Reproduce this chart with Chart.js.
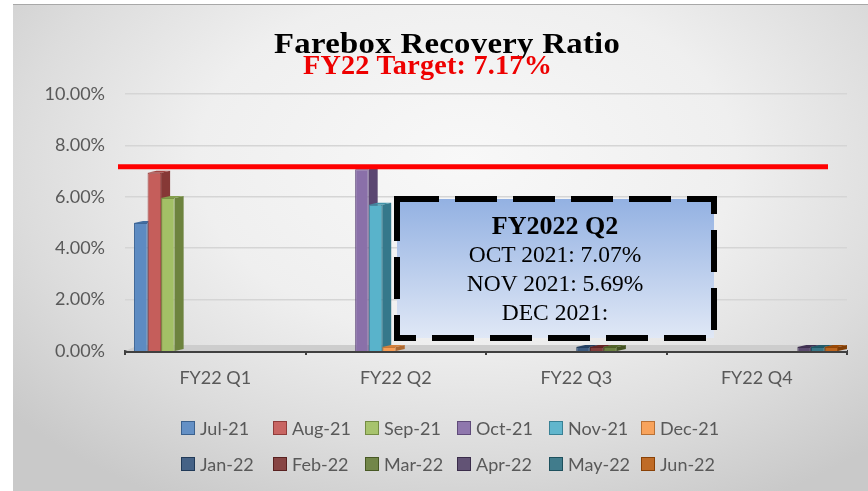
<!DOCTYPE html>
<html>
<head>
<meta charset="utf-8">
<script src="https://cdn.jsdelivr.net/npm/chart.js@4.4.1/dist/chart.umd.min.js"></script>
<style>
  html, body { margin: 0; padding: 0; background: #ffffff; }
  #wrap { position: relative; width: 868px; height: 491px; overflow: hidden; background: #ffffff; }
  #panel {
    position: absolute; left: 13px; top: 4px; width: 855px; height: 487px;
    border-top: 1px solid #a8a8a8;
    background: radial-gradient(ellipse 70% 80% at 53% 32%, #f8f8f8 0%, #efefef 45%, #dcdcdc 75%, #c9c9c9 100%);
  }
  #c { position: absolute; left: 0; top: 0; }
  .ttl { position: absolute; white-space: nowrap; font-family: "Liberation Serif", "Times New Roman", serif; font-weight: bold; line-height: 1; transform-origin: 0 0; }
  #title { left: 274px; top: 28px; font-size: 30px; letter-spacing: 0.3px; transform: scaleX(1.09); color: #000; }
  #subtitle { left: 303px; top: 52px; font-size: 27px; letter-spacing: 0.2px; transform: scaleX(1.045); color: #ee0000; }
  #boxsvg { position: absolute; left: 0; top: 0; }
  #boxtext { position: absolute; left: 395px; top: 211px; width: 320px; text-align: center;
    font-family: "Liberation Serif", "Times New Roman", serif; color: #000; }
  #boxtext div { line-height: 29px; height: 29px; white-space: nowrap; }
  #boxtext .h { font-weight: bold; font-size: 26px; }
  #boxtext .l { font-size: 23.5px; }
  #legend { position: absolute; left: 181px; top: 410px; display: grid;
    grid-template-columns: repeat(6, 92px); grid-auto-rows: 36px; }
  .li { display: flex; align-items: center; font-family: Lato, "Open Sans", sans-serif; font-size: 18px; color: #595959; white-space: nowrap; }
  .sw { width: 12px; height: 12px; margin-right: 5px; border: 1px solid; flex: none; }
</style>
</head>
<body>
<div id="wrap">
  <div id="panel"></div>
  <canvas id="c" width="868" height="491"></canvas>
  <div id="title" class="ttl">Farebox Recovery Ratio</div>
  <div id="subtitle" class="ttl">FY22 Target: 7.17%</div>
  <svg id="boxsvg" width="868" height="491">
    <defs>
      <linearGradient id="bg" x1="0" y1="0" x2="0" y2="1">
        <stop offset="0" stop-color="#93b1e2"/>
        <stop offset="1" stop-color="#e0e8f6"/>
      </linearGradient>
    </defs>
    <rect x="397" y="199" width="317" height="139" fill="url(#bg)" stroke="#000" stroke-width="6" stroke-dasharray="42 16"/>
  </svg>
  <div id="boxtext">
    <div class="h">FY2022 Q2</div>
    <div class="l">OCT 2021: 7.07%</div>
    <div class="l">NOV 2021: 5.69%</div>
    <div class="l">DEC 2021:</div>
  </div>
  <div id="legend"></div>
</div>
<script>
// ---- data ----
const quarters = ['FY22 Q1', 'FY22 Q2', 'FY22 Q3', 'FY22 Q4'];
const months = ['Jul-21', 'Aug-21', 'Sep-21', 'Oct-21', 'Nov-21', 'Dec-21',
                'Jan-22', 'Feb-22', 'Mar-22', 'Apr-22', 'May-22', 'Jun-22'];
const monthQuarter = [0, 0, 0, 1, 1, 1, 2, 2, 2, 3, 3, 3];
const monthValues = [4.98, 6.94, 5.95, 7.07, 5.69, 0, 0, 0, 0, 0, 0, 0];
const yTicks = [0, 2, 4, 6, 8, 10];
const target = 7.17;

// ---- styles ----
const monthColors = ['#4F81BD', '#C0504D', '#9BBB59', '#8064A2', '#4BACC6', '#F79646',
                     '#2C4D75', '#772C2A', '#5F7530', '#4D3B62', '#276A7C', '#B65708'];

function shade(hex, f) {
  const n = parseInt(hex.slice(1), 16);
  let r = (n >> 16) & 255, g = (n >> 8) & 255, b = n & 255;
  if (f < 0) { r *= (1 + f); g *= (1 + f); b *= (1 + f); }
  else { r += (255 - r) * f; g += (255 - g) * f; b += (255 - b) * f; }
  return 'rgb(' + Math.round(r) + ',' + Math.round(g) + ',' + Math.round(b) + ')';
}

const datasets = months.map((m, i) => ({
  label: m,
  data: quarters.map((q, j) => (j === monthQuarter[i] ? monthValues[i] : null)),
  backgroundColor: shade(monthColors[i], 0.08),
  borderColor: shade(monthColors[i], -0.2),
  borderWidth: 1,
  minBarLength: 4,
  categoryPercentage: 0.9,
  barPercentage: 1.0
}));

const DX = 9, DY = -2;
const bar3d = {
  id: 'bar3d',
  beforeDatasetsDraw(chart) {
    const ctx = chart.ctx, a = chart.chartArea;
    ctx.save();
    // floor
    ctx.fillStyle = '#cdcdcd';
    ctx.beginPath();
    ctx.moveTo(a.left, a.bottom);
    ctx.lineTo(a.left + 14, a.bottom - 6);
    ctx.lineTo(a.right, a.bottom - 6);
    ctx.lineTo(a.right, a.bottom);
    ctx.closePath();
    ctx.fill();
    chart.data.datasets.forEach((ds, i) => {
      const meta = chart.getDatasetMeta(i);
      meta.data.forEach((bar, j) => {
        if (ds.data[j] == null) return;
        const p = bar.getProps(['x', 'y', 'base', 'width'], true);
        const l = p.x - p.width / 2, r = p.x + p.width / 2;
        const top = Math.min(p.y, p.base), bot = Math.max(p.y, p.base);
        ctx.fillStyle = shade(monthColors[i], -0.3);
        ctx.beginPath();
        ctx.moveTo(r, top); ctx.lineTo(r + DX, top + DY);
        ctx.lineTo(r + DX, bot + DY); ctx.lineTo(r, bot);
        ctx.closePath(); ctx.fill();
        ctx.fillStyle = shade(monthColors[i], -0.15);
        ctx.beginPath();
        ctx.moveTo(l, top); ctx.lineTo(l + DX, top + DY);
        ctx.lineTo(r + DX, top + DY); ctx.lineTo(r, top);
        ctx.closePath(); ctx.fill();
      });
    });
    ctx.restore();
  }
};

const targetLine = {
  id: 'targetLine',
  afterDatasetsDraw(chart) {
    const ctx = chart.ctx, y = chart.scales.y.getPixelForValue(target);
    ctx.save();
    ctx.strokeStyle = '#ff0000';
    ctx.lineWidth = 5;
    ctx.beginPath();
    ctx.moveTo(118, y);
    ctx.lineTo(828, y);
    ctx.stroke();
    ctx.restore();
  }
};

new Chart(document.getElementById('c'), {
  type: 'bar',
  data: { labels: quarters, datasets: datasets },
  plugins: [bar3d, targetLine],
  options: {
    responsive: false,
    animation: false,
    devicePixelRatio: 1,
    layout: { padding: { top: 94, right: 21, bottom: 0, left: 0 } },
    plugins: { legend: { display: false }, title: { display: false }, tooltip: { enabled: false } },
    scales: {
      x: {
        afterFit(s) { s.height = 140; },
        grid: { offset: true, drawOnChartArea: false, drawTicks: true, tickLength: 4, color: '#404040', lineWidth: 2 },
        border: { display: true, color: '#404040', width: 3 },
        ticks: { color: '#595959', font: { family: 'Lato', size: 18 }, padding: 12 }
      },
      y: {
        min: 0, max: 10,
        afterFit(s) { s.width = 125; },
        afterBuildTicks(s) { s.ticks = yTicks.map(v => ({ value: v })); },
        grid: {
          drawTicks: false,
          color: '#d5d5d5',
          lineWidth: c => (c.tick && c.tick.value === 0 ? 0 : 1.5)
        },
        border: { display: false },
        ticks: {
          color: '#595959', font: { family: 'Lato', size: 18 }, padding: 20,
          callback: v => v.toFixed(2) + '%'
        }
      }
    }
  }
});

// HTML legend
const lg = document.getElementById('legend');
months.forEach((m, i) => {
  const it = document.createElement('div');
  it.className = 'li';
  const sw = document.createElement('span');
  sw.className = 'sw';
  sw.style.background = shade(monthColors[i], 0.12);
  sw.style.borderColor = shade(monthColors[i], -0.25);
  it.appendChild(sw);
  it.appendChild(document.createTextNode(m));
  lg.appendChild(it);
});
</script>
</body>
</html>
